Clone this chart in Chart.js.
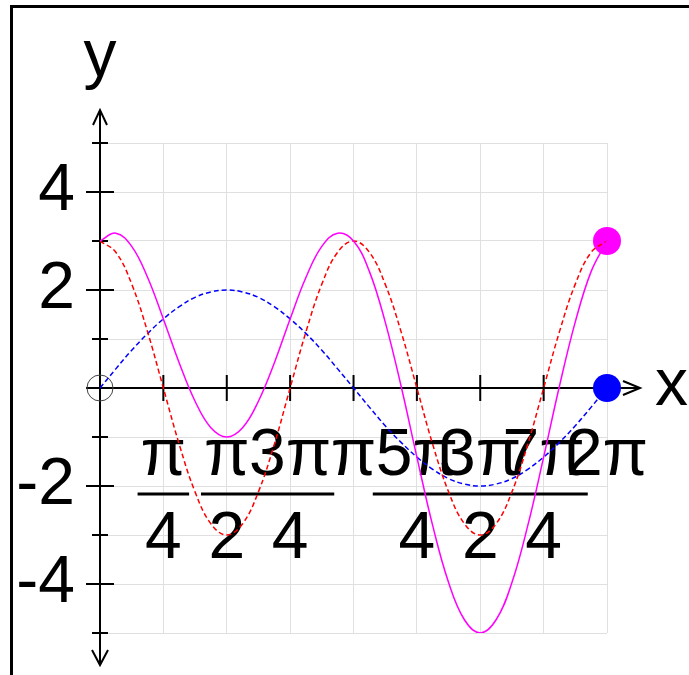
<!DOCTYPE html>
<html>
<head>
<meta charset="utf-8">
<script src="https://cdn.jsdelivr.net/npm/chart.js@4"></script>
<style>
  html, body { margin: 0; padding: 0; background: #fff; overflow: hidden; }
  #frame { position: absolute; left: 10px; top: 5px; width: 720px; height: 720px;
           border-top: 3px solid #000; border-left: 3px solid #000; }
  #wrap { position: absolute; left: 0; top: 0; width: 689px; height: 675px; }
</style>
</head>
<body>
<div id="frame"></div>
<div id="wrap"><canvas id="graph"></canvas></div>
<script>
// sample positions (radians, step pi/16)
const xs = [0, 0.196, 0.393, 0.589, 0.785, 0.982, 1.178, 1.374, 1.571, 1.767, 1.963,
  2.160, 2.356, 2.553, 2.749, 2.945, 3.142, 3.338, 3.534, 3.731, 3.927, 4.123, 4.320,
  4.516, 4.712, 4.909, 5.105, 5.301, 5.498, 5.694, 5.890, 6.087, 6.283];

// red dashed curve
const redVals = [3, 2.77, 2.12, 1.15, 0, -1.15, -2.12, -2.77, -3, -2.77, -2.12, -1.15, 0,
  1.15, 2.12, 2.77, 3, 2.77, 2.12, 1.15, 0, -1.15, -2.12, -2.77, -3, -2.77, -2.12, -1.15,
  0, 1.15, 2.12, 2.77, 3];

// blue dashed curve
const blueVals = [0, 0.39, 0.77, 1.11, 1.41, 1.66, 1.85, 1.96, 2, 1.96, 1.85, 1.66, 1.41,
  1.11, 0.77, 0.39, 0, -0.39, -0.77, -1.11, -1.41, -1.66, -1.85, -1.96, -2, -1.96, -1.85,
  -1.66, -1.41, -1.11, -0.77, -0.39, 0];

// magenta solid curve (sum of the two)
const magentaVals = [3, 3.16, 2.89, 2.26, 1.41, 0.51, -0.27, -0.81, -1, -0.81, -0.27, 0.51,
  1.41, 2.26, 2.89, 3.16, 3, 2.38, 1.35, 0.04, -1.41, -2.81, -3.97, -4.73, -5, -4.73, -3.97,
  -2.81, -1.41, 0.04, 1.35, 2.38, 3];

// x ticks every pi/4 and their labels (arrays = fractions)
const xTicks = [0, 0.785, 1.571, 2.356, 3.142, 3.927, 4.712, 5.498, 6.283];
const xTickLabels = ['', ['π', '4'], ['π', '2'], ['3π', '4'], 'π', ['5π', '4'], ['3π', '2'], ['7π', '4'], '2π'];

// labelled y ticks
const yLabelValues = [-4, -2, 2, 4];
const yLabelTexts = ['-4', '-2', '2', '4'];

const xMax = 6.283, yMin = -5, yMax = 5;
const FONT = '"Liberation Sans", Arial, sans-serif';

const toPts = vals => xs.map((x, i) => ({x: x, y: vals[i]}));

// axes with arrows, tick marks, fraction bars and axis names
const axesPlugin = {
  id: 'axesPlugin',
  beforeDatasetsDraw(chart) {
    const {ctx, scales: {x, y}} = chart;
    const x0 = x.getPixelForValue(0), y0 = y.getPixelForValue(0);
    const top = y.getPixelForValue(yMax), bottom = y.getPixelForValue(yMin);
    const right = x.getPixelForValue(xMax);
    ctx.save();
    ctx.strokeStyle = '#000';
    ctx.lineWidth = 2;
    ctx.beginPath();
    ctx.moveTo(x0, top - 33); ctx.lineTo(x0, bottom + 32);
    ctx.moveTo(x0 - 7, top - 18); ctx.lineTo(x0, top - 33); ctx.lineTo(x0 + 7, top - 18);
    ctx.moveTo(x0 - 8, bottom + 17); ctx.lineTo(x0, bottom + 32); ctx.lineTo(x0 + 8, bottom + 17);
    ctx.moveTo(x0 - 14, y0); ctx.lineTo(right + 33, y0);
    ctx.moveTo(right + 16, y0 - 7); ctx.lineTo(right + 33, y0); ctx.lineTo(right + 16, y0 + 7);

    // y tick marks: long at labelled values, short elsewhere
    y.ticks.forEach(t => {
      if (t.value === 0) return;
      const py = y.getPixelForValue(t.value);
      const len = yLabelValues.includes(t.value) ? 14 : 8;
      ctx.moveTo(x0 - len, py); ctx.lineTo(x0 + len, py);
    });
    // x tick marks
    x.ticks.forEach(t => {
      if (t.value === 0) return;
      const px = x.getPixelForValue(t.value);
      ctx.moveTo(px, y0 - 13); ctx.lineTo(px, y0 + 13);
    });
    ctx.stroke();

    // fraction bars under the numerators
    ctx.font = '66px ' + FONT;
    ctx.lineWidth = 3;
    ctx.beginPath();
    xTickLabels.forEach((lab, i) => {
      if (!Array.isArray(lab)) return;
      const px = x.getPixelForValue(xTicks[i]);
      const w = Math.max(ctx.measureText(lab[0]).width, ctx.measureText(lab[1]).width) + 6;
      ctx.moveTo(px - w / 2, y0 + 106); ctx.lineTo(px + w / 2, y0 + 106);
    });
    ctx.stroke();

    // axis names
    ctx.fillStyle = '#000';
    ctx.textBaseline = 'alphabetic';
    ctx.textAlign = 'center';
    ctx.fillText('y', x0, 76);
    ctx.textAlign = 'left';
    ctx.fillText('x', right + 48, y0 + 17);
    ctx.restore();
  }
};

new Chart(document.getElementById('graph'), {
  type: 'line',
  data: {
    datasets: [
      {
        data: toPts(magentaVals),
        borderColor: '#ff00ff',
        borderWidth: 1.5,
        pointRadius: 0,
        tension: 0.4
      },
      {
        data: toPts(redVals),
        borderColor: '#ff0000',
        borderWidth: 1.5,
        borderDash: [5, 3],
        pointRadius: 0,
        tension: 0.4
      },
      {
        data: toPts(blueVals),
        borderColor: '#0000ff',
        borderWidth: 1.5,
        borderDash: [5, 3],
        pointRadius: 0,
        tension: 0.4
      },
      {
        data: [{x: xMax, y: magentaVals[magentaVals.length - 1]}],
        showLine: false,
        pointRadius: 14,
        pointBackgroundColor: '#ff00ff',
        pointBorderWidth: 0,
        clip: false
      },
      {
        data: [{x: xMax, y: blueVals[blueVals.length - 1]}],
        showLine: false,
        pointRadius: 14,
        pointBackgroundColor: '#0000ff',
        pointBorderWidth: 0,
        clip: false
      },
      {
        data: [{x: 0, y: 0}],
        showLine: false,
        pointRadius: 13,
        pointBackgroundColor: 'rgba(0,0,0,0)',
        pointBorderColor: '#444',
        pointBorderWidth: 1,
        clip: false
      }
    ]
  },
  options: {
    responsive: true,
    maintainAspectRatio: false,
    animation: false,
    layout: { padding: { left: 0, right: 82, top: 143, bottom: 42 } },
    plugins: { legend: { display: false }, tooltip: { enabled: false } },
    scales: {
      x: {
        type: 'linear',
        position: { y: 0 },
        min: 0,
        max: xMax,
        afterBuildTicks: scale => { scale.ticks = xTicks.map(v => ({ value: v })); },
        afterFit: scale => { scale.paddingLeft = 0; scale.paddingRight = 0; },
        grid: { color: '#e0e0e0', lineWidth: 1, drawTicks: false },
        border: { display: false },
        ticks: {
          autoSkip: false,
          maxRotation: 0,
          minRotation: 0,
          padding: 28,
          color: '#000',
          font: { family: FONT, size: 66, lineHeight: 1.25 },
          callback: (v, i) => xTickLabels[i]
        }
      },
      y: {
        type: 'linear',
        position: 'left',
        min: yMin,
        max: yMax,
        // fixed width so the plot starts at x = 100
        afterFit: scale => { scale.width = 100; scale.paddingTop = 0; scale.paddingBottom = 0; },
        grid: { color: '#e0e0e0', lineWidth: 1, drawTicks: false },
        border: { display: false },
        ticks: {
          stepSize: 1,
          autoSkip: false,
          padding: 25,
          color: '#000',
          font: { family: FONT, size: 66, lineHeight: 1.25 },
          callback: v => {
            const i = yLabelValues.indexOf(v);
            return i >= 0 ? yLabelTexts[i] : '';
          }
        }
      }
    }
  },
  plugins: [axesPlugin]
});
</script>
</body>
</html>
